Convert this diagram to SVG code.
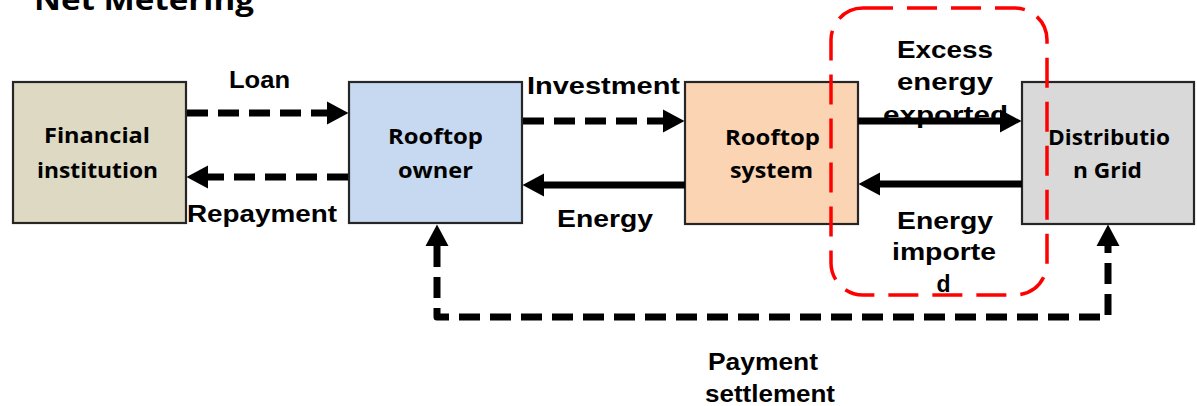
<svg xmlns="http://www.w3.org/2000/svg" width="1197" height="406" viewBox="0 0 1197 406">
  <style>
    .box { stroke: #262626; stroke-width: 2.2; }
    .node-label { font-family: "Open Sans", "Liberation Sans", sans-serif; font-weight: 700; font-size: 21px; fill: #000; text-anchor: middle; }
    .edge-label { font-family: "Liberation Sans", Arial, sans-serif; font-weight: 700; font-size: 23px; fill: #000; text-anchor: middle; }
    .title { font-family: "Open Sans", "Liberation Sans", sans-serif; font-weight: 700; font-size: 28px; fill: #000; }
    .flow { fill: none; stroke: #000; stroke-width: 7; }
    .dashed { stroke-dasharray: 21 10; }
    .highlight { fill: none; stroke: #FF0000; stroke-width: 3.5; stroke-dasharray: 30 14; }
  </style>
  <defs>
    <marker id="head" markerUnits="userSpaceOnUse" viewBox="0 -12 22 24" markerWidth="22" markerHeight="24" refX="0" refY="0" orient="auto-start-reverse">
      <polygon points="0,-11.5 21.5,0 0,11.5" fill="#000"/>
    </marker>
  </defs>

  <rect width="1197" height="406" fill="#fff"/>

  <text class="title" x="34" y="10" textLength="220" lengthAdjust="spacingAndGlyphs">Net Metering</text>

  <g id="financial-institution">
    <rect class="box" x="13" y="82" width="173" height="141" fill="#DDD9C3"/>
    <text class="node-label" x="97" y="143" textLength="106" lengthAdjust="spacingAndGlyphs">Financial</text>
    <text class="node-label" x="97.5" y="178" textLength="121" lengthAdjust="spacingAndGlyphs">institution</text>
  </g>

  <g id="rooftop-owner">
    <rect class="box" x="349" y="82" width="173" height="141" fill="#C6D9F1"/>
    <text class="node-label" x="435.5" y="144" textLength="95" lengthAdjust="spacingAndGlyphs">Rooftop</text>
    <text class="node-label" x="435.5" y="178" textLength="75" lengthAdjust="spacingAndGlyphs">owner</text>
  </g>

  <g id="rooftop-system">
    <rect class="box" x="685" y="82" width="173" height="142" fill="#FBD4B4"/>
    <text class="node-label" x="772.5" y="145" textLength="95" lengthAdjust="spacingAndGlyphs">Rooftop</text>
    <text class="node-label" x="771.5" y="178" textLength="83" lengthAdjust="spacingAndGlyphs">system</text>
  </g>

  <g id="distribution-grid">
    <rect class="box" x="1022" y="82" width="172" height="142" fill="#D9D9D9"/>
    <text class="node-label" x="1109" y="145" textLength="122" lengthAdjust="spacingAndGlyphs">Distributio</text>
    <text class="node-label" x="1107.5" y="178" textLength="69" lengthAdjust="spacingAndGlyphs">n Grid</text>
  </g>

  <g id="connectors">
    <!-- flow labels -->
    <text class="edge-label" x="259.5" y="88" textLength="61" lengthAdjust="spacingAndGlyphs">Loan</text>
    <text class="edge-label" x="262" y="222" textLength="150" lengthAdjust="spacingAndGlyphs">Repayment</text>
    <text class="edge-label" x="603.5" y="94" textLength="153" lengthAdjust="spacingAndGlyphs">Investment</text>
    <text class="edge-label" x="605" y="227" textLength="96" lengthAdjust="spacingAndGlyphs">Energy</text>
    <text class="edge-label" x="945" y="58" textLength="96" lengthAdjust="spacingAndGlyphs">Excess</text>
    <text class="edge-label" x="945" y="90" textLength="96" lengthAdjust="spacingAndGlyphs">energy</text>
    <text class="edge-label" x="945.5" y="123" textLength="125" lengthAdjust="spacingAndGlyphs">exported</text>
    <text class="edge-label" x="945" y="229" textLength="96" lengthAdjust="spacingAndGlyphs">Energy</text>
    <text class="edge-label" x="944" y="260" textLength="104" lengthAdjust="spacingAndGlyphs">importe</text>
    <text class="edge-label" x="943.5" y="292">d</text>
    <text class="edge-label" x="763" y="370" textLength="110" lengthAdjust="spacingAndGlyphs">Payment</text>
    <text class="edge-label" x="770" y="402" textLength="130" lengthAdjust="spacingAndGlyphs">settlement</text>

    <!-- financial flows -->
    <line class="flow dashed" x1="187" y1="113" x2="327" y2="113" marker-end="url(#head)"/>
    <line class="flow dashed" x1="348" y1="177" x2="208" y2="177" marker-end="url(#head)"/>
    <line class="flow dashed" x1="523" y1="121" x2="663" y2="121" marker-end="url(#head)"/>
    <!-- energy flows -->
    <line class="flow" x1="685" y1="185" x2="544" y2="185" marker-end="url(#head)"/>
    <line class="flow" x1="858" y1="121" x2="1000" y2="121" marker-end="url(#head)"/>
    <line class="flow" x1="1022" y1="184" x2="880" y2="184" marker-end="url(#head)"/>
    <!-- settlement loop -->
    <path class="flow dashed" d="M437,246 L437,317 L1108,317 L1108,246" stroke-linejoin="round" marker-start="url(#head)" marker-end="url(#head)"/>
  </g>

  <rect class="highlight" x="831" y="8" width="216" height="287" rx="32" ry="32"/>
</svg>
